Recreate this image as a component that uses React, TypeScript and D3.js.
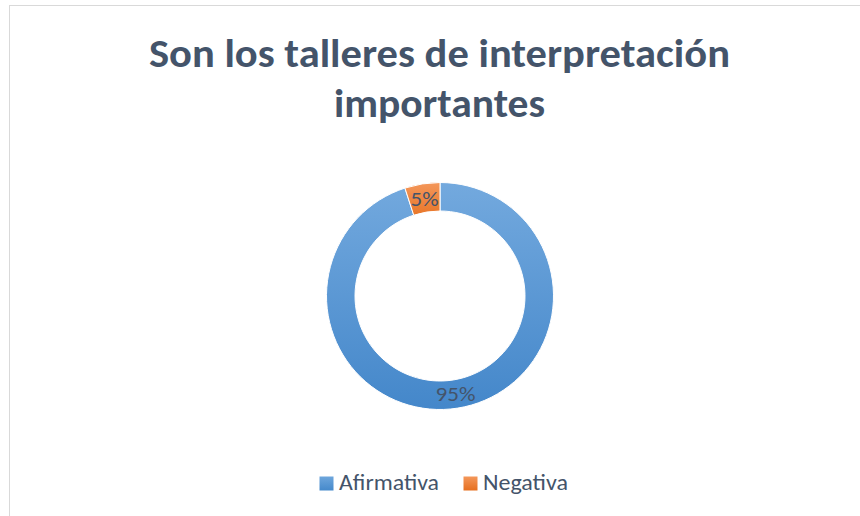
import React from "react";
import * as d3 from "d3";

const categories = ["Afirmativa", "Negativa"];
const values = [95, 5];
const labels = ["95%", "5%"];
const titleLines = ["Son los talleres de interpretación", "importantes"];

const W = 860;
const H = 516;
const cx = 440;
const cy = 296;
const outerR = 113.5;
const innerR = 85;

export default function App() {
  const pie = d3
    .pie<number>()
    .sort(null)
    .value((d) => d)
    .startAngle(0)
    .endAngle(2 * Math.PI);
  const arcs = pie(values);
  const arc = d3.arc<d3.PieArcDatum<number>>().innerRadius(innerR).outerRadius(outerR);
  const labelArc = d3
    .arc<d3.PieArcDatum<number>>()
    .innerRadius(99)
    .outerRadius(99);
  const fills = ["url(#gBlue)", "url(#gOrange)"];
  const legendFills = ["url(#gBlueL)", "url(#gOrangeL)"];
  const fontFam = "Carlito, Lato, 'Open Sans', sans-serif";
  const legendX = [319.5, 463.5];
  const legendTextW = [100, 85];

  return (
    <svg
      width={W}
      height={H}
      style={{ position: "absolute", left: 0, top: 0, background: "#fff" }}
    >
      <defs>
        <linearGradient id="gBlue" gradientUnits="userSpaceOnUse" x1={0} y1={-outerR} x2={0} y2={outerR}>
          <stop offset="0" stopColor="#73a9de" />
          <stop offset="1" stopColor="#4487ca" />
        </linearGradient>
        <linearGradient id="gOrange" gradientUnits="userSpaceOnUse" x1={0} y1={-outerR} x2={0} y2={-outerR + 40}>
          <stop offset="0" stopColor="#f4975a" />
          <stop offset="1" stopColor="#e6701f" />
        </linearGradient>
        <linearGradient id="gBlueL" x1="0" y1="0" x2="0" y2="1">
          <stop offset="0" stopColor="#6ea6dc" />
          <stop offset="1" stopColor="#4589cb" />
        </linearGradient>
        <linearGradient id="gOrangeL" x1="0" y1="0" x2="0" y2="1">
          <stop offset="0" stopColor="#f4975a" />
          <stop offset="1" stopColor="#e66f1f" />
        </linearGradient>
      </defs>
      <rect x={9.5} y={5.5} width={900} height={560} fill="#fff" stroke="#d9d9d9" strokeWidth={1} />

      {titleLines.map((t, i) => (
        <text
          key={t}
          x={439.5}
          y={66.5 + i * 50}
          textAnchor="middle"
          fontFamily={fontFam}
          fontWeight={700}
          fontSize={40}
          fill="#44546A"
          textLength={i === 0 ? 581 : 211}
          lengthAdjust="spacingAndGlyphs"
        >
          {t}
        </text>
      ))}

      <g transform={`translate(${cx},${cy})`}>
        {arcs.map((a, i) => (
          <path key={categories[i]} d={arc(a) || ""} fill={fills[i]} stroke="#fff" strokeWidth={1} />
        ))}
        {arcs.map((a, i) => {
          const [x, y] = labelArc.centroid(a);
          return (
            <text
              key={labels[i]}
              x={x}
              y={y + 7.5}
              textAnchor="middle"
              fontFamily={fontFam}
              fontSize={21}
              fill="#44546A"
              textLength={i === 0 ? 40 : 28}
              lengthAdjust="spacingAndGlyphs"
            >
              {labels[i]}
            </text>
          );
        })}
      </g>

      {categories.map((c, i) => (
        <g key={c}>
          <rect x={legendX[i]} y={476.5} width={14} height={14} fill={legendFills[i]} />
          <text
            x={legendX[i] + 19.5}
            y={490}
            fontFamily={fontFam}
            fontSize={23}
            fill="#44546A"
            textLength={legendTextW[i]}
            lengthAdjust="spacingAndGlyphs"
          >
            {c}
          </text>
        </g>
      ))}
    </svg>
  );
}
